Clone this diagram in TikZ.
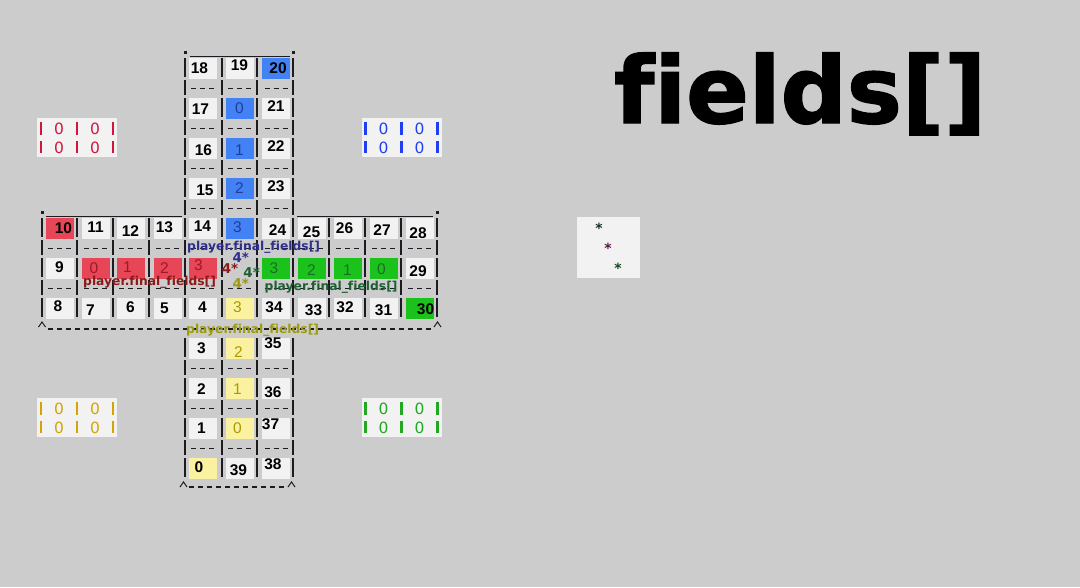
\documentclass[tikz,border=0pt]{standalone}
\usepackage{fontspec}
\setmainfont{Liberation Sans}
\newfontfamily\dvs{DejaVu Sans}[Ligatures=NoCommon]
\newfontfamily\titlefont{DejaVu Sans}[Ligatures=NoCommon,BoldFeatures={FakeBold=1.6}]
\definecolor{bgc}{HTML}{CCCCCC}
\definecolor{cellc}{HTML}{F2F2F2}
\definecolor{redc}{HTML}{E64655}
\definecolor{bluec}{HTML}{4282F5}
\definecolor{greenc}{HTML}{1CC21C}
\definecolor{yelc}{HTML}{FAF2A0}
\definecolor{redt}{HTML}{A01828}
\definecolor{bluet}{HTML}{263A9A}
\definecolor{greent}{HTML}{1B6B2B}
\definecolor{yelt}{HTML}{A89B00}
\definecolor{lblue}{HTML}{30308C}
\definecolor{lred}{HTML}{8B1A1A}
\definecolor{lgreen}{HTML}{1F5F35}
\definecolor{lyel}{HTML}{9C9A10}
\definecolor{barc}{HTML}{1E1A22}
\definecolor{hred}{HTML}{D4143C}
\definecolor{hblue}{HTML}{2040F0}
\definecolor{hyel}{HTML}{D2A600}
\definecolor{hgreen}{HTML}{22A822}
\tikzset{
 cellbg/.style={minimum width=28pt, minimum height=21pt, inner sep=0pt, draw=none},
 num/.style={inner sep=0pt, text=black, font=\fontsize{15.5}{16}\selectfont\bfseries},
 rnum/.style={inner sep=0pt, text=redt, font=\fontsize{15.5}{16}\selectfont},
 bnum/.style={inner sep=0pt, text=bluet, font=\fontsize{15.5}{16}\selectfont},
 gnum/.style={inner sep=0pt, text=greent, font=\fontsize{15.5}{16}\selectfont},
 ynum/.style={inner sep=0pt, text=yelt, font=\fontsize{15.5}{16}\selectfont},
 bar/.style={line width=1.6pt, draw=barc},
 dashrow/.style={line width=1.4pt, draw=barc, dash pattern=on 5pt off 4pt},
 solidrule/.style={line width=1.5pt, draw=barc},
 caret/.style={line width=1pt, draw=barc},
 lbl/.style={inner sep=0pt, anchor=west, font=\dvs\fontsize{12.3}{12.3}\selectfont\bfseries},
 four/.style={inner sep=0pt, font=\dvs\fontsize{13.5}{14}\selectfont\bfseries},
 homezero/.style={inner sep=0pt, font=\dvs\fontsize{15.5}{16}\selectfont},
 homebar/.style={line width=2.2pt},
 star/.style={inner sep=0pt, font=\dvs\fontsize{14}{14}\selectfont\bfseries},
}
% #1 name, #2 cx, #3 cy, #4 fill, #5 text style, #6 text, #7 dx, #8 dy
\newcommand\cel[8]{%
  \node[cellbg,fill=#4] (c#1) at (#2,#3) {};
  \node[#5] (t#1) at (#2+#7,#3+#8) {#6};}
% home box: #1 name, #2 x offset, #3 y offset, #4 colour
\newcommand\homebox[4]{%
  \fill[cellc] (37+#2,118+#3) rectangle (117+#2,157.3+#3);
  \foreach \bx in {41,77,113}{
    \draw[homebar,#4] (\bx+#2,121.7+#3) -- (\bx+#2,135+#3);
    \draw[homebar,#4] (\bx+#2,140.5+#3) -- (\bx+#2,152.7+#3);}
  \node[homezero,text=#4] (#1a) at (59+#2,128.7+#3) {0};
  \node[homezero,text=#4] (#1b) at (95+#2,128.7+#3) {0};
  \node[homezero,text=#4] (#1c) at (59+#2,147.5+#3) {0};
  \node[homezero,text=#4] (#1d) at (95+#2,147.5+#3) {0};}
\begin{document}
\begin{tikzpicture}[x=1pt,y=-1pt]
\fill[bgc] (0,0) rectangle (1080,587);
\useasboundingbox (0,0) rectangle (1080,587);

% home boxes
\homebox{hr}{0}{0}{hred}
\homebox{hb}{324.5}{0}{hblue}
\homebox{hy}{0}{280}{hyel}
\homebox{hg}{324.5}{280}{hgreen}

% star box
\fill[cellc] (577,217) rectangle (640,278);
\node[star,text={rgb,255:red,20;green,50;blue,40}] (s1) at (599,228) {*};
\node[star,text={rgb,255:red,90;green,20;blue,70}] (s2) at (608,248) {*};
\node[star,text={rgb,255:red,20;green,70;blue,30}] (s3) at (618,268) {*};

% title
\node[inner sep=0pt, anchor=base west, font=\titlefont\fontsize{92.5}{93}\selectfont\bfseries] (title) at (614,123) {fields[]};

% ---- cells ----
% top arm
\cel{18}{202.5}{68}{cellc}{num}{18}{-3}{0}
\cel{19}{239.5}{68}{cellc}{num}{19}{0}{-3}
\cel{20}{276}{68}{bluec}{num}{20}{2}{0}
\cel{17}{202.5}{108}{cellc}{num}{17}{-2}{1.5}
\cel{b0}{239.5}{108}{bluec}{bnum}{0}{0}{0}
\cel{21}{276}{108}{cellc}{num}{21}{0}{-2}
\cel{16}{202.5}{148}{cellc}{num}{16}{1}{2}
\cel{b1}{239.5}{148}{bluec}{bnum}{1}{0}{2}
\cel{22}{276}{148}{cellc}{num}{22}{0}{-1.5}
\cel{15}{202.5}{188}{cellc}{num}{15}{2.5}{2.5}
\cel{b2}{239.5}{188}{bluec}{bnum}{2}{0}{0}
\cel{23}{276}{188}{cellc}{num}{23}{0}{-1.5}
% middle row 4
\cel{10}{59.5}{228}{redc}{num}{10}{4}{0}
\cel{11}{95.5}{228}{cellc}{num}{11}{0}{-1}
\cel{12}{130.5}{228}{cellc}{num}{12}{0}{3}
\cel{13}{167.5}{228}{cellc}{num}{13}{-3}{-1}
\cel{14}{202.5}{228}{cellc}{num}{14}{0}{-1.5}
\cel{b3}{239.5}{228}{bluec}{bnum}{3}{-2}{-1}
\cel{24}{276}{228}{cellc}{num}{24}{1.5}{2.5}
\cel{25}{311.5}{228}{cellc}{num}{25}{0}{4}
\cel{26}{347.5}{228}{cellc}{num}{26}{-3}{0}
\cel{27}{383.5}{228}{cellc}{num}{27}{-1.5}{2}
\cel{28}{419.5}{228}{cellc}{num}{28}{-1.5}{5}
% middle row 5
\cel{9}{59.5}{268}{cellc}{num}{9}{0}{-1}
\cel{r0}{95.5}{268}{redc}{rnum}{0}{-1.5}{0}
\cel{r1}{130.5}{268}{redc}{rnum}{1}{-3}{-1}
\cel{r2}{167.5}{268}{redc}{rnum}{2}{-3}{0}
\cel{r3}{202.5}{268}{redc}{rnum}{3}{-4}{-3}
\cel{g3}{276}{268}{greenc}{gnum}{3}{-2}{0}
\cel{g2}{311.5}{268}{greenc}{gnum}{2}{0}{2}
\cel{g1}{347.5}{268}{greenc}{gnum}{1}{0}{2}
\cel{g0}{383.5}{268}{greenc}{gnum}{0}{-2}{1}
\cel{29}{419.5}{268}{cellc}{num}{29}{-1.5}{3.5}
% middle row 6
\cel{8}{59.5}{308}{cellc}{num}{8}{-1.5}{-1.5}
\cel{7}{95.5}{308}{cellc}{num}{7}{-5}{2}
\cel{6}{130.5}{308}{cellc}{num}{6}{0}{-1}
\cel{5}{167.5}{308}{cellc}{num}{5}{-3}{0}
\cel{4}{202.5}{308}{cellc}{num}{4}{0}{-1}
\cel{y3}{239.5}{308}{yelc}{ynum}{3}{-2}{-1}
\cel{34}{276}{308}{cellc}{num}{34}{-2}{-1}
\cel{33}{311.5}{308}{cellc}{num}{33}{2}{2}
\cel{32}{347.5}{308}{cellc}{num}{32}{-2.5}{-0.5}
\cel{31}{383.5}{308}{cellc}{num}{31}{0}{2}
\cel{30}{419.5}{308}{greenc}{num}{30}{6}{1}
% bottom arm
\cel{3}{202.5}{348}{cellc}{num}{3}{-1}{0}
\cel{y2}{239.5}{348}{yelc}{ynum}{2}{-1}{4}
\cel{35}{276}{348}{cellc}{num}{35}{-3}{-5}
\cel{2}{202.5}{388}{cellc}{num}{2}{-1}{1}
\cel{y1}{239.5}{388}{yelc}{ynum}{1}{-2}{1.5}
\cel{36}{276}{388}{cellc}{num}{36}{-3}{4}
\cel{1}{202.5}{428}{cellc}{num}{1}{-1}{0}
\cel{y0}{239.5}{428}{yelc}{ynum}{0}{-2}{0}
\cel{37}{276}{428}{cellc}{num}{37}{-5.5}{-3.5}
\cel{0}{202.5}{468}{yelc}{num}{0}{-3.5}{-1}
\cel{39}{239.5}{468}{cellc}{num}{39}{-1}{2.5}
\cel{38}{276}{468}{cellc}{num}{38}{-3}{-4}

% ---- bars ----
\foreach \bx in {185,222,257,293}{
  \foreach \r in {0,1,2,3,7,8,9,10}{
    \draw[bar] (\bx,58+40*\r) -- (\bx,77+40*\r);}
  \foreach \r in {0,1,2,3,7,8,9}{
    \draw[bar] (\bx,80+40*\r) -- (\bx,95+40*\r);}}
\foreach \bx in {42,77,113,149,185,222,257,293,329,365,401,437}{
  \foreach \r in {4,5,6}{
    \draw[bar] (\bx,58+40*\r) -- (\bx,77+40*\r);}
  \foreach \r in {4,5}{
    \draw[bar] (\bx,80+40*\r) -- (\bx,95+40*\r);}}

% ---- dash rows ----
\foreach \cx in {202.5,239.5,276}{
  \foreach \r in {0,1,2,3,7,8,9}{
    \draw[dashrow] (\cx-11.5,88.5+40*\r) -- (\cx+11.5,88.5+40*\r);}}
\foreach \cx in {59.5,95.5,130.5,167.5,202.5,239.5,276,311.5,347.5,383.5,419.5}{
  \foreach \r in {4,5}{
    \draw[dashrow] (\cx-11.5,88.5+40*\r) -- (\cx+11.5,88.5+40*\r);}}

% ---- frame marks ----
\fill[barc] (184,51) rectangle (186.5,53.5);
\fill[barc] (292,51) rectangle (294.5,53.5);
\fill[barc] (41,211) rectangle (43.5,213.5);
\fill[barc] (436,211) rectangle (438.5,213.5);
\draw[solidrule] (190,56.7) -- (290,56.7);
\draw[solidrule] (46,216.7) -- (182,216.7);
\draw[solidrule] (297,216.7) -- (433,216.7);
\draw[caret] (38.5,327) -- (42,322) -- (45.5,327);
\draw[caret] (434,327) -- (437.5,322) -- (441,327);
\draw[caret] (180,487) -- (183.5,482) -- (187,487);
\draw[caret] (288,487) -- (291.5,482) -- (295,487);
\draw[dashrow] (48,329) -- (433,329);
\draw[dashrow] (189,487) -- (287,487);

% ---- labels ----
\node[lbl,text=lblue] (lb) at (187,246.8) {player.final\_fields[]};
\node[lbl,text=lred] (lr) at (83,282.5) {player.final\_fields[]};
\node[lbl,text=lgreen] (lg) at (264.5,287.5) {player.final\_fields[]};
\node[lbl,text=lyel] (ly) at (186,330) {player.final\_fields[]};

\node[four,text=lblue] (fb) at (240.8,257.8) {4*};
\node[four,text=lred] (fr) at (230,268.8) {4*};
\node[four,text=lgreen] (fg) at (251.7,272.5) {4*};
\node[four,text=lyel] (fy) at (240.8,283.3) {4*};
\end{tikzpicture}
\end{document}
